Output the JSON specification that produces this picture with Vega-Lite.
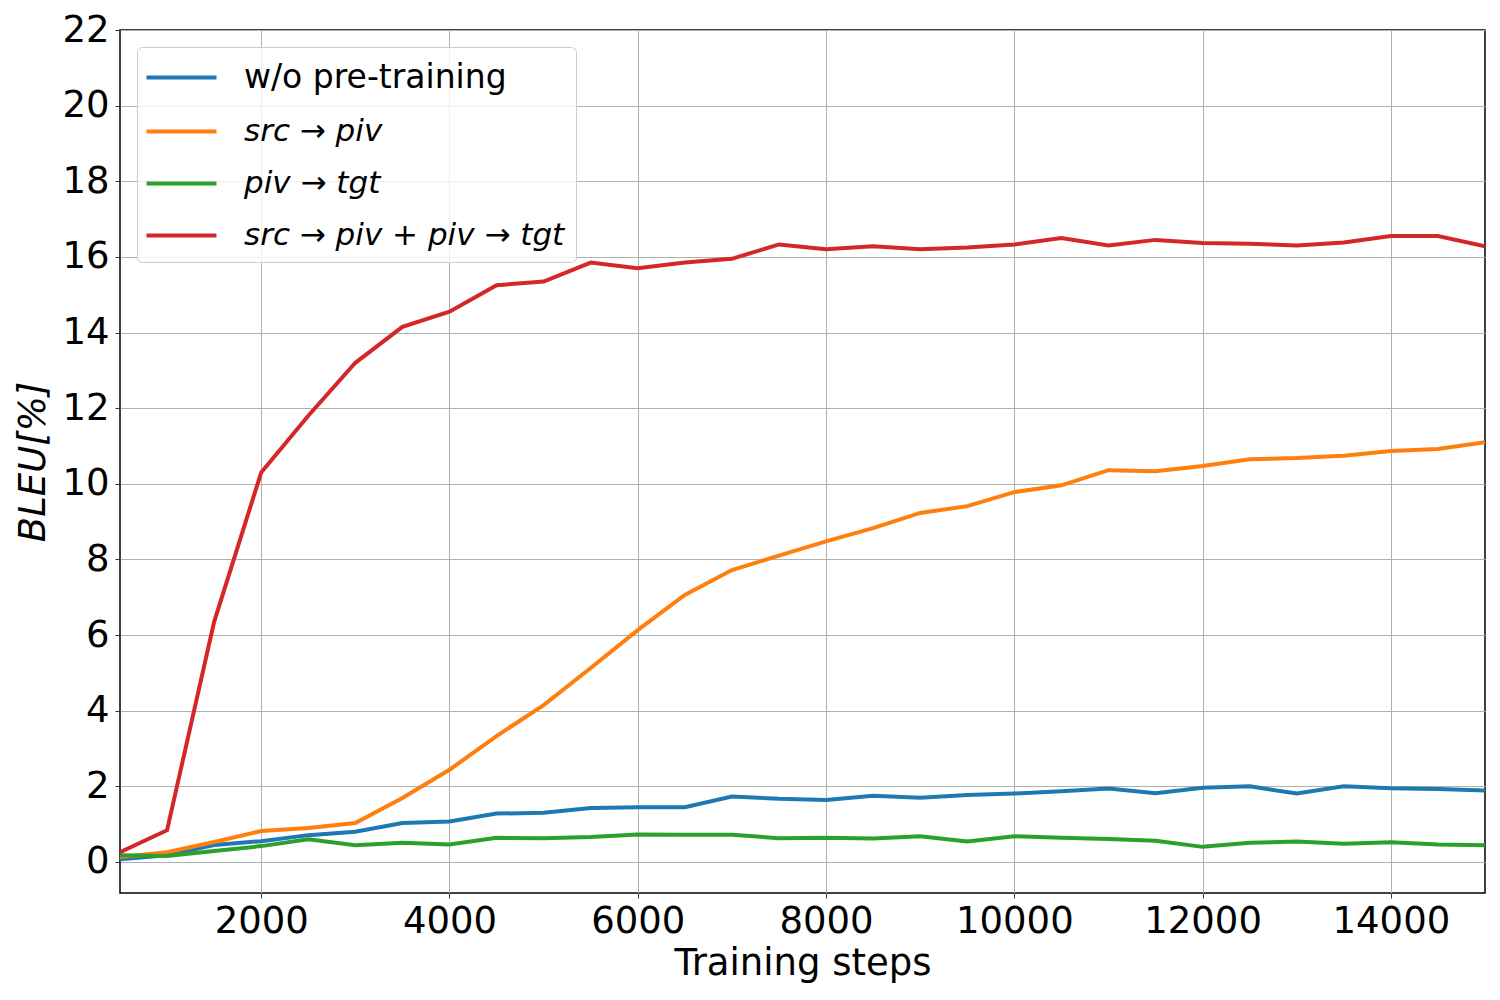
{
  "$schema": "https://vega.github.io/schema/vega-lite/v6.json",
  "autosize": {"type": "none"},
  "width": 1365,
  "height": 863,
  "padding": {"left": 120, "top": 30, "right": 15, "bottom": 107},
  "background": "white",
  "data": {
    "values": [
      {"step": 500, "model": "w/o pre-training", "bleu": 0.07},
      {"step": 1000, "model": "w/o pre-training", "bleu": 0.18},
      {"step": 1500, "model": "w/o pre-training", "bleu": 0.45},
      {"step": 2000, "model": "w/o pre-training", "bleu": 0.55},
      {"step": 2500, "model": "w/o pre-training", "bleu": 0.71},
      {"step": 3000, "model": "w/o pre-training", "bleu": 0.8},
      {"step": 3500, "model": "w/o pre-training", "bleu": 1.03},
      {"step": 4000, "model": "w/o pre-training", "bleu": 1.07},
      {"step": 4500, "model": "w/o pre-training", "bleu": 1.28},
      {"step": 5000, "model": "w/o pre-training", "bleu": 1.3},
      {"step": 5500, "model": "w/o pre-training", "bleu": 1.43},
      {"step": 6000, "model": "w/o pre-training", "bleu": 1.45},
      {"step": 6500, "model": "w/o pre-training", "bleu": 1.45},
      {"step": 7000, "model": "w/o pre-training", "bleu": 1.73},
      {"step": 7500, "model": "w/o pre-training", "bleu": 1.67},
      {"step": 8000, "model": "w/o pre-training", "bleu": 1.64},
      {"step": 8500, "model": "w/o pre-training", "bleu": 1.75},
      {"step": 9000, "model": "w/o pre-training", "bleu": 1.7},
      {"step": 9500, "model": "w/o pre-training", "bleu": 1.77},
      {"step": 10000, "model": "w/o pre-training", "bleu": 1.81},
      {"step": 10500, "model": "w/o pre-training", "bleu": 1.87},
      {"step": 11000, "model": "w/o pre-training", "bleu": 1.94},
      {"step": 11500, "model": "w/o pre-training", "bleu": 1.82},
      {"step": 12000, "model": "w/o pre-training", "bleu": 1.96},
      {"step": 12500, "model": "w/o pre-training", "bleu": 2.0},
      {"step": 13000, "model": "w/o pre-training", "bleu": 1.81},
      {"step": 13500, "model": "w/o pre-training", "bleu": 2.0},
      {"step": 14000, "model": "w/o pre-training", "bleu": 1.95},
      {"step": 14500, "model": "w/o pre-training", "bleu": 1.93},
      {"step": 15000, "model": "w/o pre-training", "bleu": 1.89},

      {"step": 500, "model": "src → piv", "bleu": 0.13},
      {"step": 1000, "model": "src → piv", "bleu": 0.26},
      {"step": 1500, "model": "src → piv", "bleu": 0.53},
      {"step": 2000, "model": "src → piv", "bleu": 0.82},
      {"step": 2500, "model": "src → piv", "bleu": 0.9},
      {"step": 3000, "model": "src → piv", "bleu": 1.03},
      {"step": 3500, "model": "src → piv", "bleu": 1.69},
      {"step": 4000, "model": "src → piv", "bleu": 2.44},
      {"step": 4500, "model": "src → piv", "bleu": 3.33},
      {"step": 5000, "model": "src → piv", "bleu": 4.15},
      {"step": 5500, "model": "src → piv", "bleu": 5.13},
      {"step": 6000, "model": "src → piv", "bleu": 6.13},
      {"step": 6500, "model": "src → piv", "bleu": 7.06},
      {"step": 7000, "model": "src → piv", "bleu": 7.72},
      {"step": 7500, "model": "src → piv", "bleu": 8.1},
      {"step": 8000, "model": "src → piv", "bleu": 8.48},
      {"step": 8500, "model": "src → piv", "bleu": 8.83},
      {"step": 9000, "model": "src → piv", "bleu": 9.23},
      {"step": 9500, "model": "src → piv", "bleu": 9.41},
      {"step": 10000, "model": "src → piv", "bleu": 9.78},
      {"step": 10500, "model": "src → piv", "bleu": 9.96},
      {"step": 11000, "model": "src → piv", "bleu": 10.36},
      {"step": 11500, "model": "src → piv", "bleu": 10.33},
      {"step": 12000, "model": "src → piv", "bleu": 10.47},
      {"step": 12500, "model": "src → piv", "bleu": 10.65},
      {"step": 13000, "model": "src → piv", "bleu": 10.68},
      {"step": 13500, "model": "src → piv", "bleu": 10.74},
      {"step": 14000, "model": "src → piv", "bleu": 10.87},
      {"step": 14500, "model": "src → piv", "bleu": 10.92},
      {"step": 15000, "model": "src → piv", "bleu": 11.1},

      {"step": 500, "model": "piv → tgt", "bleu": 0.18},
      {"step": 1000, "model": "piv → tgt", "bleu": 0.16},
      {"step": 1500, "model": "piv → tgt", "bleu": 0.29},
      {"step": 2000, "model": "piv → tgt", "bleu": 0.42},
      {"step": 2500, "model": "piv → tgt", "bleu": 0.6},
      {"step": 3000, "model": "piv → tgt", "bleu": 0.44},
      {"step": 3500, "model": "piv → tgt", "bleu": 0.51},
      {"step": 4000, "model": "piv → tgt", "bleu": 0.46},
      {"step": 4500, "model": "piv → tgt", "bleu": 0.64},
      {"step": 5000, "model": "piv → tgt", "bleu": 0.63},
      {"step": 5500, "model": "piv → tgt", "bleu": 0.66},
      {"step": 6000, "model": "piv → tgt", "bleu": 0.73},
      {"step": 6500, "model": "piv → tgt", "bleu": 0.72},
      {"step": 7000, "model": "piv → tgt", "bleu": 0.72},
      {"step": 7500, "model": "piv → tgt", "bleu": 0.63},
      {"step": 8000, "model": "piv → tgt", "bleu": 0.64},
      {"step": 8500, "model": "piv → tgt", "bleu": 0.62},
      {"step": 9000, "model": "piv → tgt", "bleu": 0.68},
      {"step": 9500, "model": "piv → tgt", "bleu": 0.54},
      {"step": 10000, "model": "piv → tgt", "bleu": 0.68},
      {"step": 10500, "model": "piv → tgt", "bleu": 0.64},
      {"step": 11000, "model": "piv → tgt", "bleu": 0.61},
      {"step": 11500, "model": "piv → tgt", "bleu": 0.56},
      {"step": 12000, "model": "piv → tgt", "bleu": 0.4},
      {"step": 12500, "model": "piv → tgt", "bleu": 0.51},
      {"step": 13000, "model": "piv → tgt", "bleu": 0.54},
      {"step": 13500, "model": "piv → tgt", "bleu": 0.48},
      {"step": 14000, "model": "piv → tgt", "bleu": 0.52},
      {"step": 14500, "model": "piv → tgt", "bleu": 0.46},
      {"step": 15000, "model": "piv → tgt", "bleu": 0.44},

      {"step": 500, "model": "src → piv + piv → tgt", "bleu": 0.26},
      {"step": 1000, "model": "src → piv + piv → tgt", "bleu": 0.84},
      {"step": 1500, "model": "src → piv + piv → tgt", "bleu": 6.35},
      {"step": 2000, "model": "src → piv + piv → tgt", "bleu": 10.3},
      {"step": 2500, "model": "src → piv + piv → tgt", "bleu": 11.8},
      {"step": 3000, "model": "src → piv + piv → tgt", "bleu": 13.2},
      {"step": 3500, "model": "src → piv + piv → tgt", "bleu": 14.15},
      {"step": 4000, "model": "src → piv + piv → tgt", "bleu": 14.55},
      {"step": 4500, "model": "src → piv + piv → tgt", "bleu": 15.25},
      {"step": 5000, "model": "src → piv + piv → tgt", "bleu": 15.35},
      {"step": 5500, "model": "src → piv + piv → tgt", "bleu": 15.85},
      {"step": 6000, "model": "src → piv + piv → tgt", "bleu": 15.7},
      {"step": 6500, "model": "src → piv + piv → tgt", "bleu": 15.85},
      {"step": 7000, "model": "src → piv + piv → tgt", "bleu": 15.95},
      {"step": 7500, "model": "src → piv + piv → tgt", "bleu": 16.33},
      {"step": 8000, "model": "src → piv + piv → tgt", "bleu": 16.2},
      {"step": 8500, "model": "src → piv + piv → tgt", "bleu": 16.28},
      {"step": 9000, "model": "src → piv + piv → tgt", "bleu": 16.2},
      {"step": 9500, "model": "src → piv + piv → tgt", "bleu": 16.25},
      {"step": 10000, "model": "src → piv + piv → tgt", "bleu": 16.33},
      {"step": 10500, "model": "src → piv + piv → tgt", "bleu": 16.5},
      {"step": 11000, "model": "src → piv + piv → tgt", "bleu": 16.3},
      {"step": 11500, "model": "src → piv + piv → tgt", "bleu": 16.45},
      {"step": 12000, "model": "src → piv + piv → tgt", "bleu": 16.37},
      {"step": 12500, "model": "src → piv + piv → tgt", "bleu": 16.35},
      {"step": 13000, "model": "src → piv + piv → tgt", "bleu": 16.3},
      {"step": 13500, "model": "src → piv + piv → tgt", "bleu": 16.38},
      {"step": 14000, "model": "src → piv + piv → tgt", "bleu": 16.55},
      {"step": 14500, "model": "src → piv + piv → tgt", "bleu": 16.55},
      {"step": 15000, "model": "src → piv + piv → tgt", "bleu": 16.28}
    ]
  },
  "mark": {"type": "line", "strokeWidth": 4, "clip": true},
  "encoding": {
    "x": {
      "field": "step",
      "type": "quantitative",
      "title": "Training steps",
      "scale": {"domain": [500, 15000], "nice": false, "zero": false},
      "axis": {"values": [2000, 4000, 6000, 8000, 10000, 12000, 14000], "format": "d"}
    },
    "y": {
      "field": "bleu",
      "type": "quantitative",
      "title": "BLEU[%]",
      "scale": {"domain": [-0.82, 22], "nice": false, "zero": false},
      "axis": {"values": [0, 2, 4, 6, 8, 10, 12, 14, 16, 18, 20, 22], "titleFontStyle": "italic"}
    },
    "color": {
      "field": "model",
      "type": "nominal",
      "title": null,
      "scale": {
        "domain": ["w/o pre-training", "src → piv", "piv → tgt", "src → piv + piv → tgt"],
        "range": ["#1f77b4", "#ff7f0e", "#2ca02c", "#d62728"]
      },
      "legend": {
        "orient": "top-left",
        "offset": 17,
        "padding": 11,
        "fillColor": "rgba(255,255,255,0.8)",
        "strokeColor": "#cccccc",
        "cornerRadius": 5,
        "symbolType": "M-2,0H2",
        "symbolSize": 1225,
        "symbolStrokeWidth": 4,
        "symbolOffset": 14,
        "labelFontSize": 33,
        "labelOffset": 43,
        "rowPadding": 17,
        "labelLimit": 600,
        "encode": {
          "labels": {
            "update": {
              "fontStyle": {"signal": "datum.label === 'w/o pre-training' ? 'normal' : 'italic'"},
              "fontSize": {"signal": "datum.label === 'w/o pre-training' ? 33 : 31"}
            }
          }
        }
      }
    }
  },
  "config": {
    "font": "DejaVu Sans",
    "view": {"stroke": "black", "strokeWidth": 1.5},
    "axis": {
      "domain": false,
      "grid": true,
      "gridColor": "#b0b0b0",
      "gridWidth": 1,
      "tickColor": "#333333",
      "tickSize": 5,
      "labelFontSize": 37,
      "labelColor": "black",
      "titleFontSize": 37,
      "titleFontWeight": "normal",
      "titleColor": "black"
    },
    "axisX": {"labelPadding": 5, "titlePadding": 6},
    "axisY": {"labelPadding": 6, "titlePadding": 9},
    "legend": {"labelColor": "black", "labelFont": "DejaVu Sans"}
  }
}
